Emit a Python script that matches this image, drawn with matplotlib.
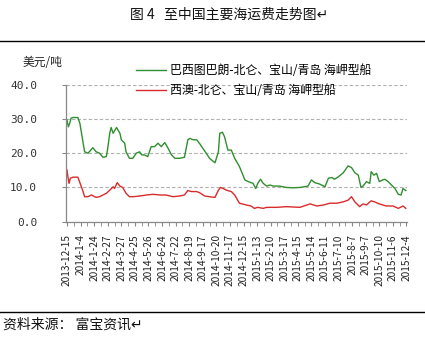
import matplotlib
matplotlib.use("Agg")
import matplotlib.pyplot as plt
from matplotlib.lines import Line2D

plt.rcParams['font.family'] = ['Noto Sans CJK SC', 'DejaVu Sans']

# Category labels (every 20 observations)
tick_labels = ["2013-12-15", "2014-1-4", "2014-1-24", "2014-2-27", "2014-3-27",
               "2014-4-25", "2014-5-26", "2014-6-24", "2014-7-22", "2014-8-19",
               "2014-9-17", "2014-10-20", "2014-11-17", "2014-12-15", "2015-1-13",
               "2015-2-10", "2015-3-17", "2015-4-15", "2015-5-14", "2015-6-11",
               "2015-7-10", "2015-8-7", "2015-9-7", "2015-10-10", "2015-11-6",
               "2015-12-4"]
label_step = 20

# Brazil (Tubarão) -> Beilun/Baoshan/Qingdao, Capesize  (observation index, USD/t)
green_idx = [0, 2, 4, 6, 9, 16, 19, 23, 26, 31, 36, 38, 43, 48, 53, 58, 60, 63, 65, 68,
             73, 78, 80, 85, 87, 92, 97, 102, 107, 110, 114, 119, 124, 129, 134, 139,
             144, 149, 154, 159, 166, 173, 178, 181, 186, 191, 195, 205, 210, 218, 223,
             225, 229, 232, 237, 242, 247, 254, 262, 267, 274, 278, 281, 285, 289, 294,
             299, 304, 313, 323, 333, 343, 355, 360, 365, 372, 380, 385, 390, 394, 399,
             407, 414, 419, 424, 429, 433, 436, 441, 446, 448, 452, 456, 460, 465, 468,
             473, 478, 483, 488, 492, 495, 499]
green_val = [29.7, 27.7, 28.7, 30.2, 30.4, 30.4, 28.7, 23.9, 20.4, 20.0, 21.1, 21.6, 20.4,
             20.0, 18.8, 19.0, 21.4, 25.8, 27.5, 25.8, 27.5, 25.8, 23.9, 22.9, 20.4, 18.5,
             18.5, 20.0, 20.4, 19.5, 19.5, 19.0, 21.9, 21.9, 22.9, 21.9, 23.1, 21.4, 19.5,
             18.5, 18.5, 18.8, 23.9, 24.3, 23.9, 23.9, 22.9, 20.0, 18.5, 17.2, 20.4, 25.8,
             26.1, 24.8, 20.9, 20.9, 18.5, 16.1, 12.2, 11.7, 11.2, 9.7, 11.2, 12.4, 11.2,
             10.4, 10.7, 10.4, 10.4, 10.0, 9.9, 10.0, 10.4, 12.2, 11.4, 11.0, 10.2, 12.7,
             12.9, 12.4, 13.0, 14.3, 16.3, 15.8, 14.3, 13.6, 10.0, 10.4, 11.7, 11.2, 14.6,
             13.6, 14.1, 11.7, 12.2, 12.4, 11.7, 10.7, 9.7, 8.0, 7.8, 9.7, 9.1]

# West Australia -> Beilun/Baoshan/Qingdao, Capesize
red_idx = [0, 1, 3, 5, 9, 16, 19, 23, 26, 31, 36, 43, 48, 53, 58, 63, 68, 70, 74, 78, 82,
           87, 92, 97, 107, 117, 127, 137, 146, 156, 166, 173, 178, 183, 191, 195, 203,
           210, 218, 223, 226, 230, 235, 242, 247, 254, 264, 271, 276, 281, 289, 294, 309,
           323, 343, 358, 368, 378, 387, 397, 407, 414, 419, 424, 431, 436, 441, 448, 453,
           460, 470, 480, 488, 495, 499]
red_val = [15.1, 13.6, 11.2, 12.7, 13.0, 13.0, 11.4, 9.2, 7.3, 7.3, 7.8, 7.1, 7.3, 7.8,
           8.3, 9.2, 10.2, 9.7, 11.4, 10.4, 10.0, 8.3, 7.3, 7.3, 7.5, 7.8, 8.0, 7.8, 7.8,
           7.3, 7.5, 7.8, 9.1, 8.8, 8.8, 8.5, 7.5, 7.3, 7.1, 9.2, 10.0, 9.7, 9.2, 8.8, 7.8,
           5.4, 4.9, 4.6, 3.9, 4.2, 3.9, 4.2, 4.2, 4.4, 4.2, 5.2, 4.6, 4.9, 5.4, 5.4, 5.8,
           6.3, 7.3, 5.8, 4.4, 5.2, 4.9, 6.1, 5.8, 5.2, 4.6, 4.6, 3.9, 4.6, 3.9]

series_names = ["巴西图巴朗-北仑、宝山/青岛 海岬型船", "西澳-北仑、宝山/青岛 海岬型船"]
yticks = [0, 10, 20, 30, 40]

GREEN = "#2f8f2f"
RED = "#d92b2b"

fig = plt.figure(figsize=(4.25, 3.37), dpi=100)
ax = fig.add_axes([0.156, 0.342, 0.802, 0.407])

ax.plot(green_idx, green_val, color=GREEN, lw=1.0)
ax.plot(red_idx, red_val, color=RED, lw=1.0)

n_last = (len(tick_labels) - 1) * label_step
ax.set_xlim(-1, n_last + 1)
ax.set_ylim(0, 40)
ax.set_yticks(yticks)
ax.set_yticklabels([f"{v:.1f}" for v in yticks], fontsize=8, color="#333333",
                   family="DejaVu Sans Mono")
ax.set_xticks(list(range(0, n_last + 1, label_step)))
ax.set_xticklabels(tick_labels, rotation=90, fontsize=7.3, color="#222222")
ax.set_xticks(list(range(0, n_last + 1, 10)), minor=True)
ax.tick_params(axis='x', which='both', length=3, direction='out', color='#888888', pad=6)
ax.tick_params(axis='y', length=3, direction='out', color='#888888', pad=18)

ax.grid(axis='y', color='#b0b0b0', ls=(0, (3, 2)), lw=0.8)
ax.set_axisbelow(True)
for s in ['top', 'right']:
    ax.spines[s].set_visible(False)
for s in ['left', 'bottom']:
    ax.spines[s].set_color('#888888')
    ax.spines[s].set_linewidth(0.9)

handles = [Line2D([], [], color=GREEN, lw=1.0), Line2D([], [], color=RED, lw=1.0)]
leg = fig.legend(handles, series_names, loc='upper left', bbox_to_anchor=(0.308, 0.825),
                 frameon=False, fontsize=8.6, handlelength=2.5, handletextpad=0.4,
                 labelspacing=0.62, borderaxespad=0)

fig.text(0.054, 0.814, "美元/吨", fontsize=8.5, color="#222222", ha='left', va='center')
fig.text(0.54, 0.955, "图 4   至中国主要海运费走势图↵", fontsize=10, ha='center', va='center',
         color="#111111")
fig.text(0.008, 0.038, "资料来源： 富宝资讯↵", fontsize=10, ha='left', va='center',
         color="#111111")

fig.add_artist(Line2D([0, 1], [1 - 41 / 337, 1 - 41 / 337], color='black', lw=1.0,
                      transform=fig.transFigure))
fig.add_artist(Line2D([0, 1], [1 - 312 / 337, 1 - 312 / 337], color='black', lw=1.0,
                      transform=fig.transFigure))

fig.savefig("out.png", dpi=100)
